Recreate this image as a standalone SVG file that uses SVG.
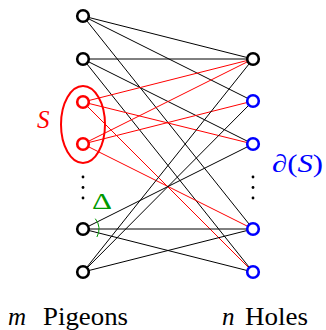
<svg xmlns="http://www.w3.org/2000/svg" width="326" height="330" viewBox="0 0 326 330">
<style>
.e{stroke:#000;stroke-width:1;fill:none}
.r{stroke:#ff0000;stroke-width:1;fill:none}
.n{fill:#fff;stroke:#000;stroke-width:2.6}
.nr{fill:#fff;stroke:#ff0000;stroke-width:2.6}
.nb{fill:#fff;stroke:#0000ff;stroke-width:2.6}
.dot{fill:#000}
</style>
<rect width="326" height="330" fill="#fff"/>
<g id="connectors">
<line class="e" x1="83" y1="16" x2="253" y2="59"/>
<line class="e" x1="83" y1="16" x2="253" y2="101"/>
<line class="e" x1="83" y1="16" x2="253" y2="229"/>
<line class="e" x1="83" y1="59" x2="253" y2="59"/>
<line class="e" x1="83" y1="59" x2="253" y2="144"/>
<line class="e" x1="83" y1="59" x2="253" y2="272"/>
<line class="r" x1="83" y1="102" x2="253" y2="59"/>
<line class="r" x1="83" y1="102" x2="253" y2="144"/>
<line class="r" x1="83" y1="102" x2="253" y2="272"/>
<line class="r" x1="83" y1="144" x2="253" y2="59"/>
<line class="r" x1="83" y1="144" x2="253" y2="101"/>
<line class="r" x1="83" y1="144" x2="253" y2="229"/>
<line class="e" x1="83" y1="229" x2="253" y2="144"/>
<line class="e" x1="83" y1="229" x2="253" y2="229"/>
<line class="e" x1="83" y1="229" x2="253" y2="272"/>
<line class="e" x1="83" y1="272" x2="253" y2="59"/>
<line class="e" x1="83" y1="272" x2="253" y2="101"/>
<line class="e" x1="83" y1="272" x2="253" y2="229"/>
</g>
<g id="S-set">
<ellipse cx="83" cy="124.5" rx="22" ry="38.5" fill="none" stroke="#ff0000" stroke-width="2"/>
<text x="37" y="128" fill="#ff0000" font-family="'Liberation Serif', 'DejaVu Serif', serif" font-size="25" font-style="italic">S</text>
</g>
<g id="L1"><circle class="n" cx="83" cy="16" r="5.8"/></g>
<g id="L2"><circle class="n" cx="83" cy="59" r="5.8"/></g>
<g id="L3"><circle class="nr" cx="83" cy="102" r="5.8"/></g>
<g id="L4"><circle class="nr" cx="83" cy="144" r="5.8"/></g>
<g id="L5"><circle class="n" cx="83" cy="229" r="5.8"/></g>
<g id="L6"><circle class="n" cx="83" cy="272" r="5.8"/></g>
<g id="R1"><circle class="n" cx="253" cy="59" r="5.8"/></g>
<g id="R2"><circle class="nb" cx="253" cy="101" r="5.8"/></g>
<g id="R3"><circle class="nb" cx="253" cy="144" r="5.8"/></g>
<g id="R4"><circle class="nb" cx="253" cy="229" r="5.8"/></g>
<g id="R5"><circle class="nb" cx="253" cy="272" r="5.8"/></g>
<g id="left-dots">
<circle class="dot" cx="83" cy="177" r="1.4"/>
<circle class="dot" cx="83" cy="187.5" r="1.4"/>
<circle class="dot" cx="83" cy="198" r="1.4"/>
</g>
<g id="right-dots">
<circle class="dot" cx="253" cy="177" r="1.4"/>
<circle class="dot" cx="253" cy="187.5" r="1.4"/>
<circle class="dot" cx="253" cy="198" r="1.4"/>
</g>
<g id="delta">
<path d="M95.3,218.7 A16,16 0 0 1 96.9,237" fill="none" stroke="#009900" stroke-width="1"/>
<text x="92" y="209" fill="#009900" font-family="'Liberation Serif', 'DejaVu Serif', serif" font-size="24" textLength="20" lengthAdjust="spacingAndGlyphs">Δ</text>
</g>
<g id="boundary-label">
<text x="272" y="172" fill="#0000ff" font-family="'Liberation Serif', 'DejaVu Serif', serif" font-size="25" textLength="51" lengthAdjust="spacingAndGlyphs">∂(<tspan font-style="italic">S</tspan>)</text>
</g>
<g id="labels" font-family="'Liberation Serif', 'DejaVu Serif', serif" font-size="25">
<text x="8" y="325" font-style="italic">m</text>
<text x="43" y="325" textLength="85" lengthAdjust="spacingAndGlyphs">Pigeons</text>
<text x="222" y="325" font-style="italic">n</text>
<text x="245" y="325" textLength="63" lengthAdjust="spacingAndGlyphs">Holes</text>
</g>
</svg>
